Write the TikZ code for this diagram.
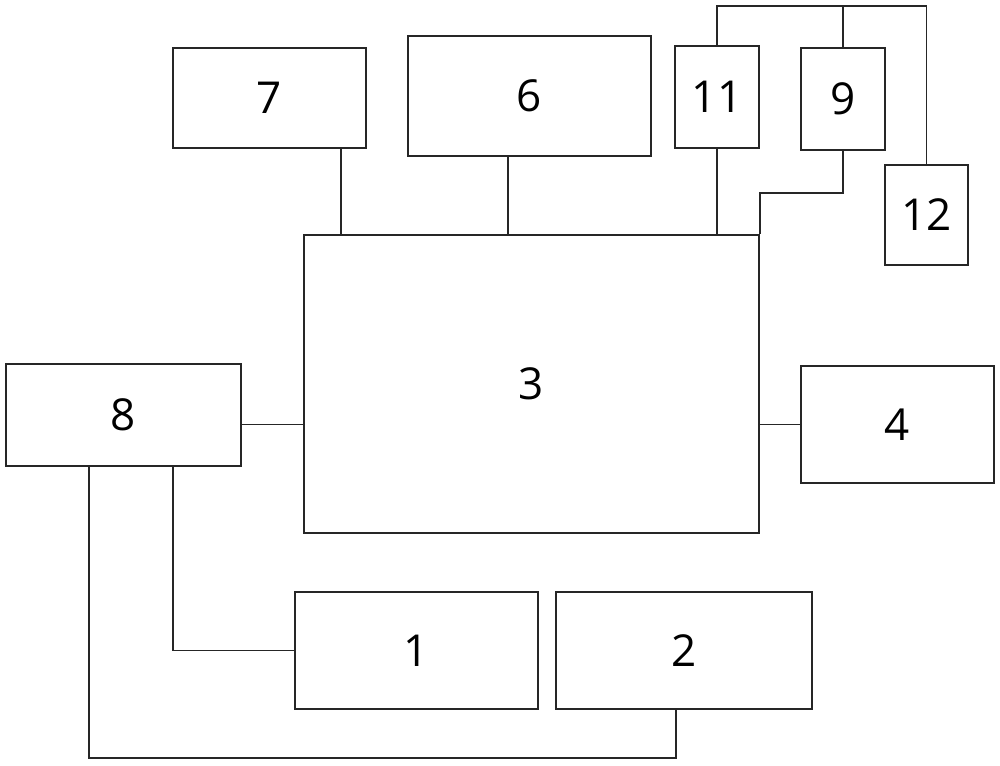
\documentclass[tikz,border=0pt]{standalone}
\usepackage{fontspec}
\setmainfont{Open Sans}
\begin{document}
\begin{tikzpicture}[x=0.75pt,y=-0.75pt,
  box/.style={draw=black!85,line width=1.4pt,rectangle,inner sep=0pt,
    font=\fontsize{33}{40}\selectfont},
  wire/.style={draw=black!85,line width=1.4pt}]
\useasboundingbox (0,0) rectangle (1000,766);
\node[box,minimum width=144.75pt,minimum height=75pt] (n7) at (269.5,98) {7};
\node[box,minimum width=182.25pt,minimum height=90pt] (n6) at (529.5,96) {6};
\node[box,minimum width=63pt,minimum height=76.5pt] (n11) at (717,97) {11};
\node[box,minimum width=63pt,minimum height=76.5pt] (n9) at (843,99) {9};
\node[box,minimum width=62.25pt,minimum height=75pt] (n12) at (926.5,215) {12};
\node[box,minimum width=341.25pt,minimum height=223.5pt] (n3) at (531.5,384) {3};
\node[box,minimum width=176.25pt,minimum height=76.5pt] (n8) at (123.5,415) {8};
\node[box,minimum width=144.75pt,minimum height=87.75pt] (n4) at (897.5,424.5) {4};
\node[box,minimum width=182.25pt,minimum height=87.75pt] (n1) at (416.5,650.5) {1};
\node[box,minimum width=192pt,minimum height=87.75pt] (n2) at (684,650.5) {2};
\coordinate (top) at (0,6);
\coordinate (bot) at (0,758);
% top connections
\draw[wire] ([xshift=53.6pt]n7.south) -- ([xshift=53.6pt]n7.south |- n3.north);
\draw[wire] ([xshift=-16.1pt]n6.south) -- ([xshift=-16.1pt]n6.south |- n3.north);
\draw[wire] (n11.south) -- (n11.south |- n3.north);
\draw[wire] (n9.south) -- ++(0,42) -| (n3.north east);
\draw[wire] (n11.north) |- (top -| n12.north) -- (n12.north);
\draw[wire] (n9.north) -- (n9.north |- top);
% side connections
\draw[wire] (n4.west -| n8.east) -- (n4.west -| n3.west);
\draw[wire] (n4.west -| n3.east) -- (n4.west);
% bottom connections
\draw[wire] ([xshift=37.1pt]n8.south) |- (n1.west);
\draw[wire] ([xshift=-25.9pt]n8.south) |- ([xshift=-6pt]n2.south |- bot) -- ([xshift=-6pt]n2.south);
\end{tikzpicture}
\end{document}
